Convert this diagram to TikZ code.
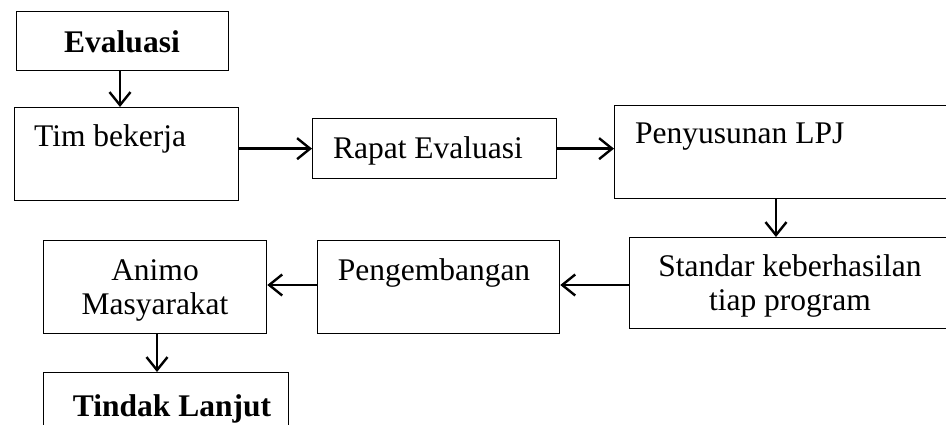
\documentclass[tikz,border=0pt]{standalone}
\usepackage{fontspec}
\setmainfont{Liberation Serif}
\usetikzlibrary{arrows.meta}
\begin{document}
\begin{tikzpicture}[x=1pt,y=-1pt,
  box/.style={draw,line width=1.3pt,rectangle,inner sep=0pt},
  lbl/.style={inner sep=0pt,font=\fontsize{31.5}{34}\selectfont},
  arr/.style={line width=2.4pt,-{Straight Barb[length=13pt,width=21pt,line width=2.4pt]}}]
\useasboundingbox (0,0) rectangle (946,425);
\clip (0,0) rectangle (946,425);
\fill[white] (0,0) rectangle (946,425);

% process boxes
\node[box,minimum width=212pt,minimum height=59pt,anchor=north west] (eval) at (16,11) {};
\node[box,minimum width=224pt,minimum height=93pt,anchor=north west] (tim) at (14,107) {};
\node[box,minimum width=244pt,minimum height=60pt,anchor=north west] (rapat) at (312,118) {};
\node[box,minimum width=346pt,minimum height=93pt,anchor=north west] (peny) at (614,105) {};
\node[box,minimum width=331pt,minimum height=91pt,anchor=north west] (stan) at (629,237) {};
\node[box,minimum width=242pt,minimum height=93pt,anchor=north west] (peng) at (317,240) {};
\node[box,minimum width=223pt,minimum height=93pt,anchor=north west] (animo) at (43,240) {};
\node[box,minimum width=245pt,minimum height=80pt,anchor=north west] (tindak) at (43,372) {};

% box texts (multi-line nodes are placed by the baseline of their last line)
\node[lbl,font=\fontsize{31.5}{34}\selectfont\bfseries,anchor=base] (tEval) at (122,53) {Evaluasi};
\node[lbl,anchor=base west] (tTim) at (34,147) {Tim bekerja};
\node[lbl,anchor=base] (tRapat) at (428,159) {Rapat Evaluasi};
\node[lbl,anchor=base west] (tPeny) at (635,144) {Penyusunan LPJ};
\node[lbl,align=center,anchor=base] (tStan) at (790,310) {Standar keberhasilan\\tiap program};
\node[lbl,anchor=base] (tPeng) at (434,280) {Pengembangan};
\node[lbl,align=center,anchor=base] (tAnimo) at (155,314) {Animo\\Masyarakat};
\node[lbl,font=\fontsize{31.5}{34}\selectfont\bfseries,anchor=base] (tTindak) at (172,416) {Tindak Lanjut};

% column positions of the vertical connectors
\coordinate (c1) at (120,0);
\coordinate (c2) at (776,0);
\coordinate (c3) at (157,0);

% connectors
\draw[arr] (eval.south -| c1) -- (tim.north -| c1);
\draw[arr] (tim.east |- rapat.east) -- (rapat.east -| rapat.west);
\draw[arr] (rapat.east) -- (rapat.east -| peny.west);
\draw[arr] (peny.south -| c2) -- (stan.north -| c2);
\draw[arr] (stan.west |- 0,285) -- (peng.east |- 0,285);
\draw[arr] (peng.west |- 0,285) -- (animo.east |- 0,285);
\draw[arr] (animo.south -| c3) -- (tindak.north -| c3);
\end{tikzpicture}
\end{document}
